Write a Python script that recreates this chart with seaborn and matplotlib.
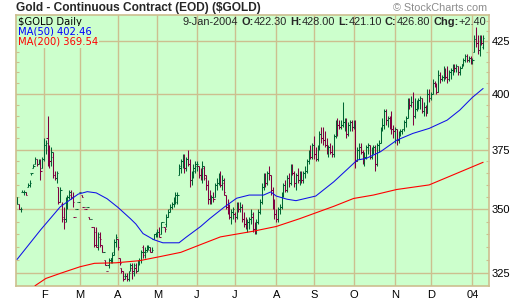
import numpy as np
import pandas as pd
import matplotlib
matplotlib.use("Agg")
import matplotlib.pyplot as plt
import seaborn as sns
from matplotlib.ticker import FixedLocator, NullFormatter

sns.set_style("white")
plt.rcParams['font.family'] = ['Liberation Sans', 'DejaVu Sans']

# ---------------- data ----------------
dates = pd.bdate_range("2003-01-13", "2004-01-09")

opens = [
    355, 352, 350, 357, 357, 357, 359, 360, 365, 367, 369, 371, 369, 370, 367,  # Jan
    371, 377, 380, 372, 370, 372, 364, 363, 359, 353, 352, 347, 346, 353, 355, 356, 355, 347, 350, 353,  # Feb
    357, 356, 351, 350, 351, 347, 346, 343, 343, 341, 336, 339, 336, 333, 330, 326, 328, 330, 331, 333, 337,  # Mar
    338, 331, 327, 326, 324, 324, 323, 326, 327, 325, 327, 326, 329, 330, 335, 333, 334, 335, 334, 333, 338, 340,  # Apr
    340, 341, 340, 345, 343, 344, 347, 350, 351, 352, 354, 353, 364, 367, 370, 372, 367, 371, 369, 362, 365, 366,  # May
    368, 368, 364, 363, 367, 363, 360, 354, 353, 355, 355, 360, 361, 364, 360, 361, 356, 351, 349, 347, 349,  # Jun
    348, 347, 352, 350, 351, 346, 344, 343, 345, 346, 347, 342, 341, 345, 349, 353, 359, 363, 361, 365, 364, 358, 352,  # Jul
    348, 346, 350, 351, 356, 360, 358, 363, 361, 367, 365, 361, 364, 362, 365, 362, 365, 366, 370, 374, 372,  # Aug
    377, 373, 371, 376, 382, 380, 379, 377, 374, 376, 374, 373, 381, 387, 386, 385, 386, 387, 388, 382, 386, 387,  # Sep
    385, 386, 370, 375, 376, 374, 370, 372, 376, 377, 372, 375, 376, 369, 377, 378, 384, 386, 392, 388, 389, 385, 384,  # Oct
    383, 384, 379, 382, 383, 384, 387, 389, 396, 395, 396, 390, 393, 394, 397, 398, 392, 394, 391, 400,  # Nov
    398, 400, 405, 404, 401, 409, 407, 408, 411, 408, 407, 410, 411, 413, 412, 413, 410, 412, 414, 416, 418, 416, 417,  # Dec
    415, 420, 426, 424, 421, 426, 422.3,  # Jan 2004
]
highs = [
    355, 352, 351, 358, 358, 357, 361, 362, 365, 369, 372, 371, 371, 371, 372,
    380, 379, 390, 377, 376, 374, 366, 366, 359, 359, 353, 351, 355, 356, 358, 358, 357, 347, 350, 353,
    357, 356, 351, 350, 351, 347, 346, 343, 343, 343, 341, 341, 336, 333, 330, 326, 331, 331, 333, 338, 340,
    338, 331, 327, 326, 325, 325, 326, 329, 329, 329, 329, 330, 331, 334, 336, 335, 336, 336, 335, 335, 340, 341,
    342, 343, 345, 345, 343, 348, 350, 352, 353, 355, 357, 357, 369, 371, 373, 373, 372, 375, 371, 366, 369, 370,
    370, 368, 367, 370, 368, 364, 362, 358, 356, 357, 361, 363, 365, 366, 364, 363, 356, 354, 352, 350, 351,
    349, 353, 353, 353, 352, 349, 347, 346, 347, 350, 349, 345, 346, 350, 354, 361, 365, 365, 366, 368, 364, 359, 354,
    350, 351, 352, 357, 361, 362, 364, 365, 369, 369, 366, 365, 367, 366, 366, 366, 368, 371, 375, 377, 378,
    381, 376, 377, 383, 385, 385, 383, 380, 377, 378, 377, 382, 388, 389, 388, 388, 396, 389, 389, 387, 388, 388,
    388, 388, 376, 378, 378, 375, 374, 377, 378, 377, 376, 377, 377, 378, 379, 385, 389, 393, 393, 390, 390, 392, 386,
    385, 384, 383, 384, 384, 388, 390, 398, 398, 399, 401, 398, 397, 398, 399, 398, 396, 395, 402, 402,
    401, 407, 406, 405, 411, 410, 409, 413, 412, 413, 411, 412, 414, 414, 414, 413, 413, 414, 417, 419, 419, 418, 418,
    417, 428, 432, 428, 428, 428, 428,
]
lows = [
    352, 350, 349, 357, 356, 356, 359, 359, 364, 367, 369, 368, 369, 362, 367,
    370, 373, 368, 367, 368, 363, 362, 361, 352, 353, 345, 342, 345, 350, 354, 354, 351, 347, 350, 353,
    357, 355, 351, 350, 351, 346, 346, 343, 335, 335, 334, 335, 333, 333, 328, 326, 327, 329, 329, 332, 335,
    334, 328, 325, 322, 323, 322, 322, 326, 323, 324, 325, 326, 328, 329, 331, 331, 333, 334, 333, 333, 338, 339,
    339, 339, 340, 345, 341, 343, 347, 349, 350, 351, 352, 352, 364, 365, 367, 365, 366, 368, 359, 360, 363, 365,
    366, 363, 362, 361, 362, 358, 352, 352, 352, 353, 355, 358, 360, 359, 358, 356, 350, 348, 346, 344, 346,
    345, 346, 349, 349, 345, 343, 342, 341, 342, 344, 341, 340, 340, 344, 348, 352, 358, 359, 360, 362, 356, 350, 346,
    345, 345, 348, 350, 355, 357, 357, 359, 360, 364, 359, 358, 361, 360, 361, 361, 363, 365, 369, 371, 371,
    371, 370, 370, 375, 378, 377, 376, 373, 372, 373, 372, 372, 380, 381, 384, 384, 385, 383, 380, 381, 383, 383,
    384, 367, 370, 371, 373, 369, 368, 371, 373, 371, 371, 373, 366, 368, 374, 378, 383, 384, 386, 385, 384, 382, 380,
    378, 377, 378, 381, 382, 383, 385, 389, 393, 394, 386, 389, 392, 393, 393, 391, 390, 390, 391, 396,
    397, 400, 403, 400, 401, 405, 406, 406, 407, 405, 406, 407, 409, 410, 410, 409, 409, 412, 413, 415, 415, 415, 414,
    414, 420, 422, 419, 418, 423, 421.1,
]
closes = [
    352, 350, 350, 357, 357, 356, 360, 361, 365, 368, 371, 369, 370, 366, 371,
    377, 378, 372, 370, 374, 364, 363, 365, 353, 358, 346, 345, 353, 355, 357, 355, 353, 347, 350, 353,
    357, 355, 351, 350, 351, 346, 346, 343, 336, 335, 340, 338, 333, 333, 328, 326, 330, 331, 332, 337, 339,
    335, 329, 326, 323, 324, 323, 325, 328, 326, 328, 326, 329, 330, 333, 332, 333, 335, 335, 333, 334, 340, 340,
    341, 339, 343, 345, 342, 347, 349, 351, 352, 354, 356, 356, 368, 370, 372, 367, 371, 369, 362, 364, 367, 369,
    369, 364, 363, 368, 364, 360, 354, 353, 355, 354, 360, 361, 364, 360, 362, 357, 351, 349, 347, 349, 350,
    347, 352, 350, 351, 346, 344, 343, 345, 346, 348, 342, 341, 345, 349, 353, 359, 363, 361, 365, 364, 358, 352, 348,
    346, 350, 351, 356, 360, 358, 363, 361, 367, 365, 361, 364, 362, 365, 362, 365, 366, 370, 374, 372, 377,
    373, 371, 376, 382, 380, 379, 377, 374, 376, 374, 373, 381, 387, 386, 385, 386, 387, 388, 382, 386, 387, 385,
    386, 370, 375, 376, 374, 370, 372, 376, 377, 372, 375, 376, 369, 377, 378, 384, 386, 392, 388, 389, 385, 384, 383,
    384, 379, 382, 383, 384, 387, 389, 396, 395, 396, 390, 393, 394, 397, 398, 392, 394, 391, 400, 398,
    400, 405, 404, 401, 409, 407, 408, 411, 408, 407, 410, 411, 413, 412, 413, 410, 412, 414, 416, 418, 416, 417, 415,
    416, 426, 424, 421, 426, 424.4, 426.8,
]

# moving averages sampled along the curves (trading-day number, value)
ma50_day = [0, 13, 24, 34, 39, 44, 50, 56, 63, 66, 70, 76, 81, 90, 94, 102, 107, 115, 122, 129,
            137, 141, 144, 150, 155, 166, 176, 183, 189, 194, 202, 211, 220, 229, 239, 246, 253, 259]
ma50_val = [330.3, 341.7, 351.0, 356.2, 357.2, 356.7, 354.3, 350.8, 346.2, 344.1, 340.3, 337.9, 336.7,
            336.7, 338.9, 343.1, 346.2, 350.8, 354.5, 355.8, 355.8, 357.1, 355.4, 354.1, 353.5, 355.4,
            361.3, 366.2, 370.5, 371.2, 374.1, 379.1, 382.1, 384.3, 388.0, 392.5, 398.3, 402.46]
ma200_day = [10, 16, 24, 35, 43, 55, 68, 79, 91, 102, 113, 131, 144, 157, 176, 187, 198, 211, 229, 242, 259]
ma200_val = [320.4, 323.1, 325.0, 327.5, 328.8, 329.0, 329.8, 331.3, 333.0, 336.0, 339.0, 341.2, 343.1,
             346.2, 351.2, 354.4, 355.8, 358.1, 360.0, 364.1, 369.54]

price_ticks = [325, 350, 375, 400, 425]
month_labels = ["F", "M", "A", "M", "J", "J", "A", "S", "O", "N", "D", "04"]

title = "Gold - Continuous Contract (EOD) ($GOLD)"
last = dict(date="9-Jan-2004", O="422.30", H="428.00", L="421.10", C="426.80", Chg="+2.40")

# ---------------- styling ----------------
W, H = 520, 301
BG = "#CCFFCC"
GRID = "#CCBF8F"
UP = "#006633"
DOWN = "#800040"
MA50_C = "#1010E8"
MA200_C = "#FF0000"

fig = plt.figure(figsize=(W / 100, H / 100), dpi=100)
fig.patch.set_facecolor("white")
L, R, T, B = 16, 488.7, 14.7, 285.7
ax = fig.add_axes([L / W, (H - B) / H, (R - L) / W, (B - T) / H])
ax.set_facecolor(BG)
ax.set_yscale("log")
ax.set_ylim(320.4, 438.3)
ax.set_xlim(-0.6, 262.1)

n = len(dates)
day = np.arange(n)
o = np.array(opens, float); h = np.array(highs, float)
lo = np.array(lows, float); c = np.array(closes, float)
prev = np.r_[c[0], c[:-1]]
cols = np.where(c >= prev, UP, DOWN)

# grid
month_pos = [int(np.argmax(dates >= pd.Timestamp(y, m, 1)))
             for y, m in [(2003, m) for m in range(2, 13)] + [(2004, 1)]]
for xp in month_pos:
    ax.axvline(xp, color=GRID, lw=1.0, zorder=0.5)
for yp in price_ticks:
    ax.axhline(yp, color=GRID, lw=1.0, zorder=0.5)

# OHLC bars
ax.vlines(day, lo, h, colors=cols, lw=0.75, zorder=2)
ax.hlines(o, day - 0.75, day, colors=cols, lw=0.75, zorder=2)
ax.hlines(c, day, day + 0.75, colors=cols, lw=0.75, zorder=2)

# moving averages
sns.lineplot(x=ma50_day, y=ma50_val, color=MA50_C, lw=0.75, ax=ax, zorder=3)
sns.lineplot(x=ma200_day, y=ma200_val, color=MA200_C, lw=0.8, ax=ax, zorder=3)

# axes / ticks
for s in ax.spines.values():
    s.set_color(GRID)
    s.set_linewidth(1.2)
ax.yaxis.tick_right()
ax.yaxis.set_major_locator(FixedLocator(price_ticks))
ax.set_yticklabels([str(v) for v in price_ticks])
minor = [v for v in range(325, 440, 5) if v not in price_ticks]
ax.yaxis.set_minor_locator(FixedLocator(minor))
ax.yaxis.set_minor_formatter(NullFormatter())
ax.tick_params(axis="y", which="major", length=0, pad=2, labelsize=8, labelcolor="black")
ax.tick_params(axis="y", which="minor", left=True, right=True, direction="in",
               length=2.5, width=0.8, color=GRID)
ax.set_xticks(month_pos)
ax.set_xticklabels(month_labels)
ax.tick_params(axis="x", which="major", length=2, width=0.8, color=GRID, pad=1,
               labelsize=8, labelcolor="black")
ax.set_xlabel(""); ax.set_ylabel("")


def fx(px):
    return px / W


def fy(py):
    return 1 - py / H


# title and credit
fig.text(fx(16), fy(8.2), title, fontsize=8.6, fontweight="bold", va="center", ha="left")
fig.text(fx(487), fy(8.2), "\u00a9 StockCharts.com", fontsize=7.8, color="#8C8C8C",
         va="center", ha="right")

# legend box (top-left, inside)
box = dict(facecolor=BG, edgecolor="none", pad=0.5)
fig.text(fx(18), fy(22), "$GOLD Daily", fontsize=7.2, family="DejaVu Sans", color="black",
         va="center", ha="left", bbox=box, zorder=5)
fig.text(fx(18), fy(32), "MA(50) 402.46", fontsize=7.2, family="DejaVu Sans", color="#0000FF",
         va="center", ha="left", bbox=box, zorder=5)
fig.text(fx(18), fy(42), "MA(200) 369.54", fontsize=7.2, family="DejaVu Sans", color="#FF0000",
         va="center", ha="left", bbox=box, zorder=5)

# header right with bold labels
pieces = [(last["date"], "normal"), ("O:", "bold"), (last["O"], "normal"), ("H:", "bold"),
          (last["H"], "normal"), ("L:", "bold"), (last["L"], "normal"), ("C:", "bold"),
          (last["C"], "normal"), ("Chg:", "bold"), (last["Chg"], "normal")]
gap_after = [True, False, True, False, True, False, True, False, True, False, False]
fs = 8.0
fig.canvas.draw()
rend = fig.canvas.get_renderer()


def measure(s, weight, size):
    t = fig.text(0, 0, s, fontsize=size, fontweight=weight)
    wpx = t.get_window_extent(rend).width
    t.remove()
    return wpx


def total_width(size):
    sp = measure("x x", "normal", size) - measure("xx", "normal", size)
    ws = [measure(s, w, size) for s, w in pieces]
    return sum(ws) + sp * sum(gap_after), ws, sp


target = 486 - 180
tw, ws, sp = total_width(fs)
fs = fs * target / tw
tw, ws, sp = total_width(fs)
xcur = 486 - tw
for (s, w), wpx, g in zip(pieces, ws, gap_after):
    fig.text(fx(xcur), fy(22), s, fontsize=fs, fontweight=w, va="center", ha="left")
    xcur += wpx + (sp if g else 0)

fig.savefig("out.png", dpi=100, facecolor="white")
